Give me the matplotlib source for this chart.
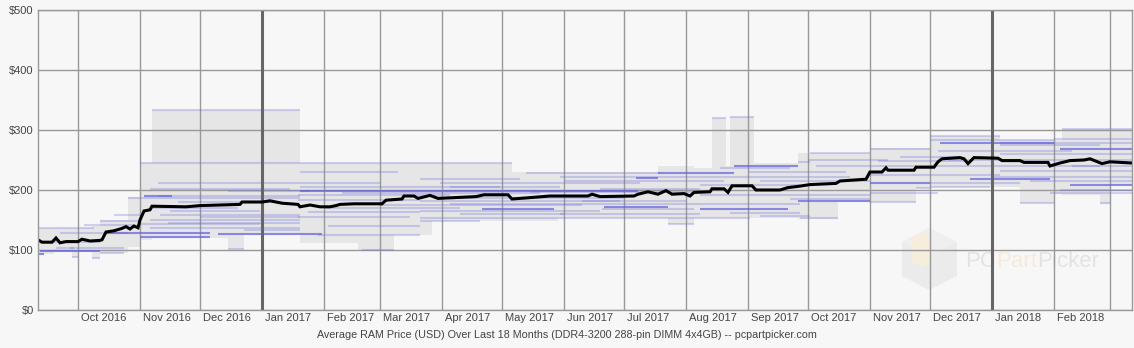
import matplotlib
matplotlib.use('Agg')
import matplotlib.pyplot as plt
import matplotlib.dates as mdates
import matplotlib.transforms as mtransforms
from matplotlib.patches import Polygon
import pandas as pd

plt.rcParams['font.family'] = ['Liberation Sans', 'DejaVu Sans']

# average price (black line)
avg_dates = ['2016-09-11', '2016-09-13', '2016-09-18', '2016-09-20', '2016-09-22', '2016-09-25',
             '2016-10-01', '2016-10-03', '2016-10-07', '2016-10-12', '2016-10-13', '2016-10-15',
             '2016-10-19', '2016-10-23', '2016-10-25', '2016-10-27', '2016-10-29', '2016-10-31',
             '2016-11-01', '2016-11-03', '2016-11-06', '2016-11-07', '2016-11-24', '2016-12-01',
             '2016-12-11', '2016-12-21', '2016-12-22', '2017-01-01', '2017-01-05', '2017-01-11',
             '2017-01-19', '2017-01-20', '2017-01-25', '2017-01-30', '2017-02-04', '2017-02-07',
             '2017-02-09', '2017-02-16', '2017-03-02', '2017-03-04', '2017-03-12', '2017-03-13',
             '2017-03-18', '2017-03-20', '2017-03-26', '2017-03-30', '2017-04-18', '2017-04-22',
             '2017-05-04', '2017-05-06', '2017-05-14', '2017-05-25', '2017-06-13', '2017-06-15',
             '2017-06-19', '2017-07-06', '2017-07-08', '2017-07-13', '2017-07-18', '2017-07-22',
             '2017-07-25', '2017-07-31', '2017-08-03', '2017-08-05', '2017-08-13', '2017-08-14',
             '2017-08-20', '2017-08-22', '2017-08-24', '2017-09-03', '2017-09-05', '2017-09-17',
             '2017-09-21', '2017-09-26', '2017-10-02', '2017-10-15', '2017-10-17', '2017-10-30',
             '2017-11-01', '2017-11-07', '2017-11-09', '2017-11-10', '2017-11-23', '2017-11-24',
             '2017-12-03', '2017-12-05', '2017-12-07', '2017-12-16', '2017-12-18', '2017-12-20',
             '2017-12-23', '2018-01-04', '2018-01-06', '2018-01-15', '2018-01-17', '2018-01-29',
             '2018-01-30', '2018-02-04', '2018-02-09', '2018-02-16', '2018-02-19', '2018-02-25',
             '2018-03-01', '2018-03-12']
avg_price = [117, 113, 113, 120, 112, 114,
             114, 118, 115, 116, 117, 130,
             132, 136, 139, 135, 140, 137,
             150, 165, 167, 173, 172, 174,
             175, 176, 180, 180, 182, 178,
             176, 172, 175, 172, 172, 174,
             176, 177, 177, 183, 185, 190,
             190, 186, 191, 186, 189, 192,
             192, 185, 187, 190, 190, 193,
             189, 190, 193, 197, 193, 199,
             193, 194, 190, 196, 197, 202,
             202, 196, 207, 207, 200, 200,
             204, 206, 209, 211, 215, 218,
             230, 230, 237, 233, 233, 238,
             238, 247, 252, 254, 252, 244,
             254, 253, 249, 249, 246, 246,
             240, 245, 249, 250, 252, 244,
             247, 245]

# price range envelope (gray)
env_start = ['2016-09-11', '2016-09-19', '2016-09-28', '2016-10-01', '2016-10-08', '2016-10-12',
             '2016-10-26', '2016-11-01', '2016-11-07', '2016-12-15', '2016-12-23', '2017-01-20',
             '2017-02-18', '2017-03-08', '2017-03-27', '2017-05-06', '2017-05-29', '2017-07-18',
             '2017-07-23', '2017-08-05', '2017-08-14', '2017-08-21', '2017-08-23', '2017-09-04',
             '2017-09-26', '2017-10-16', '2017-11-01', '2017-11-24', '2017-12-01', '2018-01-05',
             '2018-01-15', '2018-02-01', '2018-02-05', '2018-02-24', '2018-03-01']
env_end = env_start[1:] + ['2018-03-12']
env_low = [93, 97, 88, 97, 87, 95,
           105, 116, 120, 102, 125, 112,
           99, 125, 148, 148, 153, 153,
           143, 153, 153, 153, 153, 153,
           152, 180, 180, 203, 205, 205,
           178, 193, 191, 176, 208]
env_high = [137, 137, 137, 137, 140, 150,
            188, 245, 334, 334, 334, 245,
            245, 245, 245, 230, 230, 240,
            240, 236, 320, 240, 322, 245,
            262, 262, 270, 270, 290, 283,
            283, 283, 301, 301, 301]

# individual product prices, strong lines
dark_start = ['2016-09-12', '2016-09-11', '2016-10-15', '2016-11-01', '2016-11-03', '2016-12-10',
              '2017-01-20', '2017-04-21', '2017-06-21', '2017-08-08', '2017-07-07', '2017-07-18',
              '2017-08-25', '2017-09-26', '2017-11-01', '2017-12-06', '2017-12-21', '2018-02-09',
              '2018-02-04']
dark_end = ['2016-10-12', '2016-09-14', '2016-12-06', '2016-12-06', '2016-11-17', '2017-01-31',
            '2017-07-08', '2017-05-27', '2017-07-23', '2017-09-21', '2017-07-18', '2017-08-25',
            '2017-09-26', '2017-11-01', '2017-12-01', '2018-02-01', '2018-01-30', '2018-03-12',
            '2018-03-12']
dark_price = [99, 93, 129, 122, 190, 126,
              199, 169, 172, 168, 220, 229,
              240, 182, 211, 279, 219, 209,
              269]

# individual product prices, faint lines
light_start = ['2016-09-11', '2016-09-22', '2016-09-27', '2016-09-20', '2016-10-12', '2016-10-04',
               '2016-10-19', '2016-10-26', '2016-10-12', '2016-09-28', '2016-10-08', '2016-09-14',
               '2016-11-01', '2016-11-07', '2016-11-10', '2016-11-06', '2016-11-01', '2016-11-11',
               '2016-11-06', '2016-11-01', '2016-11-06', '2016-12-15', '2016-12-23', '2016-11-16',
               '2016-12-15', '2016-11-10', '2016-11-20', '2016-11-07', '2016-12-01', '2016-11-15',
               '2017-01-20', '2017-01-20', '2017-03-21', '2017-01-19', '2017-01-19', '2017-01-24',
               '2017-01-19', '2017-02-20', '2017-01-29', '2017-02-03', '2017-01-20', '2017-02-10',
               '2017-03-01', '2017-02-01', '2017-04-01', '2017-01-20',
               '2017-05-13', '2017-05-30', '2017-03-31', '2017-04-05', '2017-06-19', '2017-03-21',
               '2017-04-05', '2017-03-21', '2017-05-30', '2017-03-21', '2017-03-21', '2017-05-15',
               '2017-06-01', '2017-06-10', '2017-04-10', '2017-06-20',
               '2017-08-14', '2017-08-23', '2017-08-18', '2017-08-08', '2017-09-07', '2017-08-08',
               '2017-08-08', '2017-09-22', '2017-08-08', '2017-08-23', '2017-09-07', '2017-07-23',
               '2017-09-27', '2017-10-02', '2017-09-26', '2017-09-01', '2017-10-01', '2017-10-05',
               '2017-11-01', '2017-12-01', '2017-12-01', '2018-01-05', '2018-02-05', '2017-11-16',
               '2018-01-05', '2017-12-01', '2018-01-05', '2017-11-01', '2017-12-01', '2018-02-04',
               '2018-01-30', '2018-01-15', '2017-11-01', '2017-11-24', '2018-02-24', '2018-01-05',
               '2017-11-05', '2017-11-01', '2017-12-05', '2017-12-10', '2018-01-01', '2017-12-01',
               '2018-01-20', '2018-02-01', '2018-02-10']
light_end = ['2016-10-09', '2016-10-26', '2016-10-24', '2016-09-29', '2016-11-01', '2016-10-29',
             '2016-11-01', '2016-11-01', '2016-10-24', '2016-10-01', '2016-10-12', '2016-10-12',
             '2017-01-20', '2017-01-20', '2017-01-20', '2017-01-15', '2017-01-20', '2017-01-20',
             '2017-01-20', '2016-12-31', '2017-01-20', '2016-12-23', '2017-01-20', '2016-12-31',
             '2017-01-25', '2017-01-20', '2017-01-10', '2016-12-20', '2017-01-20', '2017-01-20',
             '2017-05-06', '2017-03-01', '2017-05-10', '2017-04-05', '2017-03-21', '2017-03-21',
             '2017-03-16', '2017-03-08', '2017-03-21', '2017-03-21', '2017-04-30', '2017-05-20',
             '2017-06-10', '2017-04-10', '2017-07-01', '2017-03-10',
             '2017-07-19', '2017-08-08', '2017-07-09', '2017-05-30', '2017-08-08', '2017-06-29',
             '2017-08-08', '2017-06-19', '2017-08-08', '2017-09-02', '2017-04-20', '2017-08-08',
             '2017-08-20', '2017-08-01', '2017-06-01', '2017-08-05',
             '2017-08-21', '2017-09-04', '2017-09-22', '2017-10-22', '2017-11-01', '2017-09-27',
             '2017-11-01', '2017-11-01', '2017-09-27', '2017-09-27', '2017-10-02', '2017-08-05',
             '2017-10-16', '2017-11-01', '2017-10-02', '2017-10-20', '2017-11-10', '2017-12-01',
             '2017-12-01', '2018-01-05', '2018-02-01', '2018-02-24', '2018-03-12', '2017-12-16',
             '2018-03-12', '2018-02-24', '2018-03-12', '2018-01-05', '2017-12-31', '2018-03-12',
             '2018-03-12', '2018-02-01', '2017-11-24', '2017-12-01', '2018-03-01', '2018-03-12',
             '2017-12-20', '2017-12-05', '2018-02-10', '2018-03-12', '2018-03-12', '2018-01-15',
             '2018-03-12', '2018-03-12', '2018-03-12']
light_price = [137, 128, 104, 103, 148, 142,
               158, 186, 95, 88, 87, 113,
               245, 334, 211, 201, 186, 158,
               150, 143, 136, 102, 133, 165,
               199, 190, 180, 170, 155, 145,
               245, 212, 218, 192, 183, 164,
               155, 100, 125, 140, 205, 195,
               175, 170, 186, 230,
               229, 222, 212, 205, 202, 182,
               177, 165, 160, 153, 148, 197,
               215, 182, 160, 168,
               320, 322, 236, 222, 215, 208,
               192, 185, 177, 162, 157, 143,
               153, 261, 247, 230, 250, 240,
               269, 290, 283, 275, 301, 255,
               260, 240, 232, 225, 205, 200,
               195, 178, 180, 203, 178, 278,
               248, 195, 265, 250, 222, 212,
               215, 285, 240]

months = pd.date_range('2016-10-01', '2018-03-01', freq='MS')
month_labels = [d.strftime('%b %Y') for d in months[:-1]] + ['']
year_starts = ['2017-01-01', '2018-01-01']

bg = '#f7f7f7'
fig = plt.figure(figsize=(11.34, 3.48), dpi=100, facecolor=bg)
ax = fig.add_axes([38 / 1134, 38 / 348, 1094 / 1134, 300 / 348], facecolor=bg)

d = lambda s: mdates.date2num(pd.to_datetime(s))

# faint watermark, behind the data but inside the plot
ff = lambda px, py: (px / 1134, 1 - py / 348)
ax.add_patch(Polygon([ff(929, 228), ff(957, 242), ff(957, 276), ff(929, 290), ff(902, 276), ff(902, 242)],
                     closed=True, transform=fig.transFigure, facecolor='#ebebeb', edgecolor='none',
                     zorder=0.5, clip_on=False))
ax.add_patch(Polygon([ff(929, 228), ff(957, 242), ff(929, 256), ff(902, 242)],
                     closed=True, transform=fig.transFigure, facecolor='#efefef', edgecolor='none',
                     zorder=0.6, clip_on=False))
ax.add_patch(Polygon([ff(912, 238), ff(922, 233), ff(932, 238), ff(932, 262), ff(922, 267), ff(912, 262)],
                     closed=True, transform=fig.transFigure, facecolor='#f6eddc', edgecolor='none',
                     zorder=0.7, clip_on=False))
renderer = fig.canvas.get_renderer()
x_px = 965
for txt, col in [('PC', '#e3e3e3'), ('Part', '#f6ebd9'), ('Picker', '#e3e3e3')]:
    t = ax.text(x_px / 1134, 1 - 267 / 348, txt, transform=fig.transFigure, ha='left', va='baseline',
                fontsize=16, color=col, zorder=0.5)
    x_px += t.get_window_extent(renderer).width

es = [d(s) for s in env_start]
ee = [d(s) for s in env_end]
ax.bar(es, [h - l for h, l in zip(env_high, env_low)], width=[b - a for a, b in zip(es, ee)],
       bottom=env_low, align='edge', color='#e6e6e6', linewidth=0, zorder=1)

ax.hlines(light_price, [d(s) for s in light_start], [d(s) for s in light_end],
          colors='#7070dd', alpha=0.3, linewidth=1.5, zorder=2)
ax.hlines(dark_price, [d(s) for s in dark_start], [d(s) for s in dark_end],
          colors='#6060e0', alpha=0.7, linewidth=1.5, zorder=3)

ax.plot([d(s) for s in avg_dates], avg_price, color='black', linewidth=2.2,
        solid_joinstyle='miter', zorder=5)

# grid
ax.set_ylim(0, 500)
ax.set_xlim(d('2016-09-11'), d('2018-03-12'))
ax.set_yticks(range(0, 501, 100))
ax.set_yticklabels(['$%d' % v for v in range(0, 501, 100)])
ax.set_xticks([d(m) for m in months])
ax.set_xticklabels([])
ax.grid(True, color='#999999', linewidth=1.0)
for gl in ax.get_xgridlines() + ax.get_ygridlines():
    gl.set_zorder(4)
for ys in year_starts:
    ax.axvline(d(ys), color='#666666', linewidth=2.2, zorder=4)
ax.tick_params(length=0, labelsize=8, labelcolor='#444444', pad=3)
for sp in ax.spines.values():
    sp.set_color('#999999')
    sp.set_linewidth(1.0)
    sp.set_zorder(6)

# month labels, left aligned just after the gridline
trans = mtransforms.blended_transform_factory(ax.transData, ax.transAxes) + \
    mtransforms.ScaledTranslation(3 / 100, 0, fig.dpi_scale_trans)
for m, lab in zip(months, month_labels):
    ax.text(d(m), -0.027, lab, transform=trans, ha='left', va='center',
            fontsize=8, color='#444444')

fig.text(567 / 1134, 1 - 335 / 348,
         'Average RAM Price (USD) Over Last 18 Months (DDR4-3200 288-pin DIMM 4x4GB) -- pcpartpicker.com',
         ha='center', va='center', fontsize=7.75, color='#444444')

plt.savefig('out.png', dpi=100, facecolor=bg)
